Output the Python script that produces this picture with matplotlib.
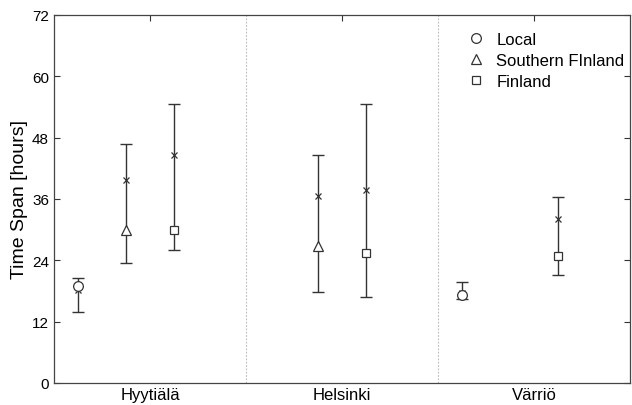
import numpy as np
import matplotlib.pyplot as plt
from matplotlib.lines import Line2D

plt.rcParams['font.family'] = ['Liberation Sans', 'DejaVu Sans']

sites = ["Hyytiälä", "Helsinki", "Värriö"]
sources = ["Local", "Southern FInland", "Finland"]
markers = ["o", "^", "s"]

# per source: values for Hyytiälä, Helsinki, Värriö (nan = not shown)
median_vals = {
    "Local": [19.0, np.nan, 17.3],
    "Southern FInland": [29.9, 26.9, np.nan],
    "Finland": [29.9, 25.4, 24.9],
}
mean_vals = {
    "Local": [18.2, np.nan, 17.7],
    "Southern FInland": [39.8, 36.6, np.nan],
    "Finland": [44.7, 37.8, 32.0],
}
lower_vals = {
    "Local": [13.8, np.nan, 16.4],
    "Southern FInland": [23.4, 17.9, np.nan],
    "Finland": [26.0, 16.8, 21.1],
}
upper_vals = {
    "Local": [20.6, np.nan, 19.7],
    "Southern FInland": [46.7, 44.7, np.nan],
    "Finland": [54.5, 54.6, 36.3],
}
offsets = [-0.375, -0.125, 0.125]

col = "#333333"
fig = plt.figure(figsize=(6.32, 4.06), dpi=100)
ax = fig.add_axes([0.0854, 0.0542, 0.9114, 0.9064])

x = np.arange(1, len(sites) + 1)
for src, mk, off in zip(sources, markers, offsets):
    xs = x + off
    lo = np.array(lower_vals[src])
    hi = np.array(upper_vals[src])
    mean = np.array(mean_vals[src])
    med = np.array(median_vals[src])
    ax.errorbar(xs, mean, yerr=[mean - lo, hi - mean], fmt="none",
                ecolor=col, elinewidth=1, capsize=4, capthick=1)
    ax.plot(xs, mean, "x", color=col, ms=5, mew=0.9)
    ax.plot(xs, med, mk, mfc="white", mec=col, ms=7 if mk != "s" else 6,
            mew=0.9, linestyle="none")

for b in [1.5, 2.5]:
    ax.axvline(b, color="#bbbbbb", lw=0.8, ls=(0, (1.5, 1.5)))

ax.set_xlim(0.5, 3.5)
ax.set_ylim(0, 72)
ax.set_yticks(np.arange(0, 73, 12))
ax.set_xticks(x)
ax.set_xticklabels(sites, fontsize=12)
ax.tick_params(axis="y", direction="in", right=True, length=4, color=col,
               labelsize=11, width=0.8)
ax.tick_params(axis="x", direction="in", bottom=False, top=True, length=4,
               color=col, width=0.8, pad=3)
ax.set_ylabel("Time Span [hours]", fontsize=14, labelpad=3)
for s in ax.spines.values():
    s.set_color("#444444")
    s.set_linewidth(0.9)

handles = [Line2D([], [], marker=m, ls="none", mfc="white", mec=col,
                  ms=7 if m != "s" else 6, mew=0.9) for m in markers]
ax.legend(handles, sources, loc="upper left", bbox_to_anchor=(0.69, 0.995),
          frameon=False, fontsize=12, handletextpad=0.6, labelspacing=0.35,
          handlelength=1.2)

fig.savefig("out.png", dpi=100)
